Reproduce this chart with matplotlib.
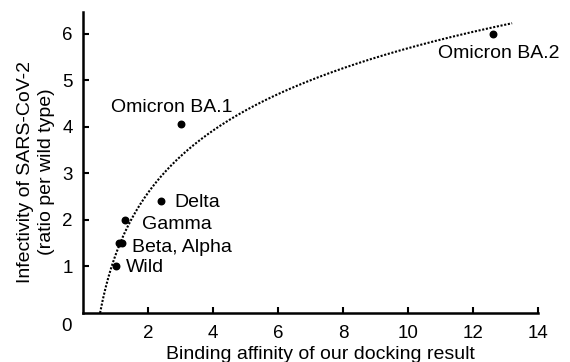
import numpy as np
import matplotlib.pyplot as plt

plt.rcParams['font.family'] = ['Liberation Sans', 'DejaVu Sans']

# data
variants = ['Wild', 'Beta', 'Alpha', 'Gamma', 'Delta', 'Omicron BA.1', 'Omicron BA.2']
affinity = [1.0, 1.1, 1.2, 1.3, 2.4, 3.0, 12.6]
infectivity = [1.0, 1.5, 1.5, 2.0, 2.4, 4.05, 6.0]

# labels shown on the chart (Beta and Alpha share one)
labels = ['Wild', 'Beta, Alpha', 'Gamma', 'Delta', 'Omicron BA.1', 'Omicron BA.2']
label_at = [(1.0, 1.0), (1.2, 1.5), (1.3, 2.0), (2.4, 2.4), (3.0, 4.05), (12.6, 6.0)]
label_off = [(7.7, -1), (7.4, -3), (12, -3.6), (9.4, -1), (-50, 12), (-39, -14)]

x_ticks = [2, 4, 6, 8, 10, 12, 14]
y_ticks = [1, 2, 3, 4, 5, 6]

fig = plt.figure(figsize=(5.7, 3.62), dpi=100)
ax = fig.add_axes([0.1456, 0.1354, 0.7985, 0.832])

# logarithmic trendline fitted to the points
a, b = np.polyfit(np.log(affinity), infectivity, 1)
x0 = np.exp(-b / a)
xs = np.linspace(x0, 13.2, 300)
ax.plot(xs, a * np.log(xs) + b, color='black', linestyle=(0, (1, 0.8)), lw=1.5)

ax.scatter(affinity, infectivity, s=22, color='black', zorder=3)

for txt, (x, y), (dx, dy) in zip(labels, label_at, label_off):
    ax.annotate(txt, (x, y), xytext=(dx, dy), textcoords='offset points',
                ha='left', va='center', fontsize=14)

ax.set_xlim(0, 14)
ax.set_ylim(0, 6.47)
ax.set_xticks(x_ticks)
ax.set_yticks(y_ticks)
ax.tick_params(direction='in', length=4, width=1.5, labelsize=13.5)
ax.tick_params(axis='y', pad=7.5)
ax.tick_params(axis='x', pad=9)
for side in ['top', 'right']:
    ax.spines[side].set_visible(False)
for side in ['left', 'bottom']:
    ax.spines[side].set_linewidth(1.8)

# shared origin label
ax.annotate('0', (0, 0), xytext=(-8, -10), textcoords='offset points',
            ha='right', va='center', fontsize=13.5)

fig.text(320 / 570, 1 - 359 / 362, 'Binding affinity of our docking result',
         ha='center', va='baseline', fontsize=14)
fig.text(36 / 570, 1 - 172 / 362, 'Infectivity of SARS-CoV-2\n(ratio per wild type)',
         ha='center', va='center', rotation=90, fontsize=14, linespacing=1.25)

fig.savefig('out.png', dpi=100)
